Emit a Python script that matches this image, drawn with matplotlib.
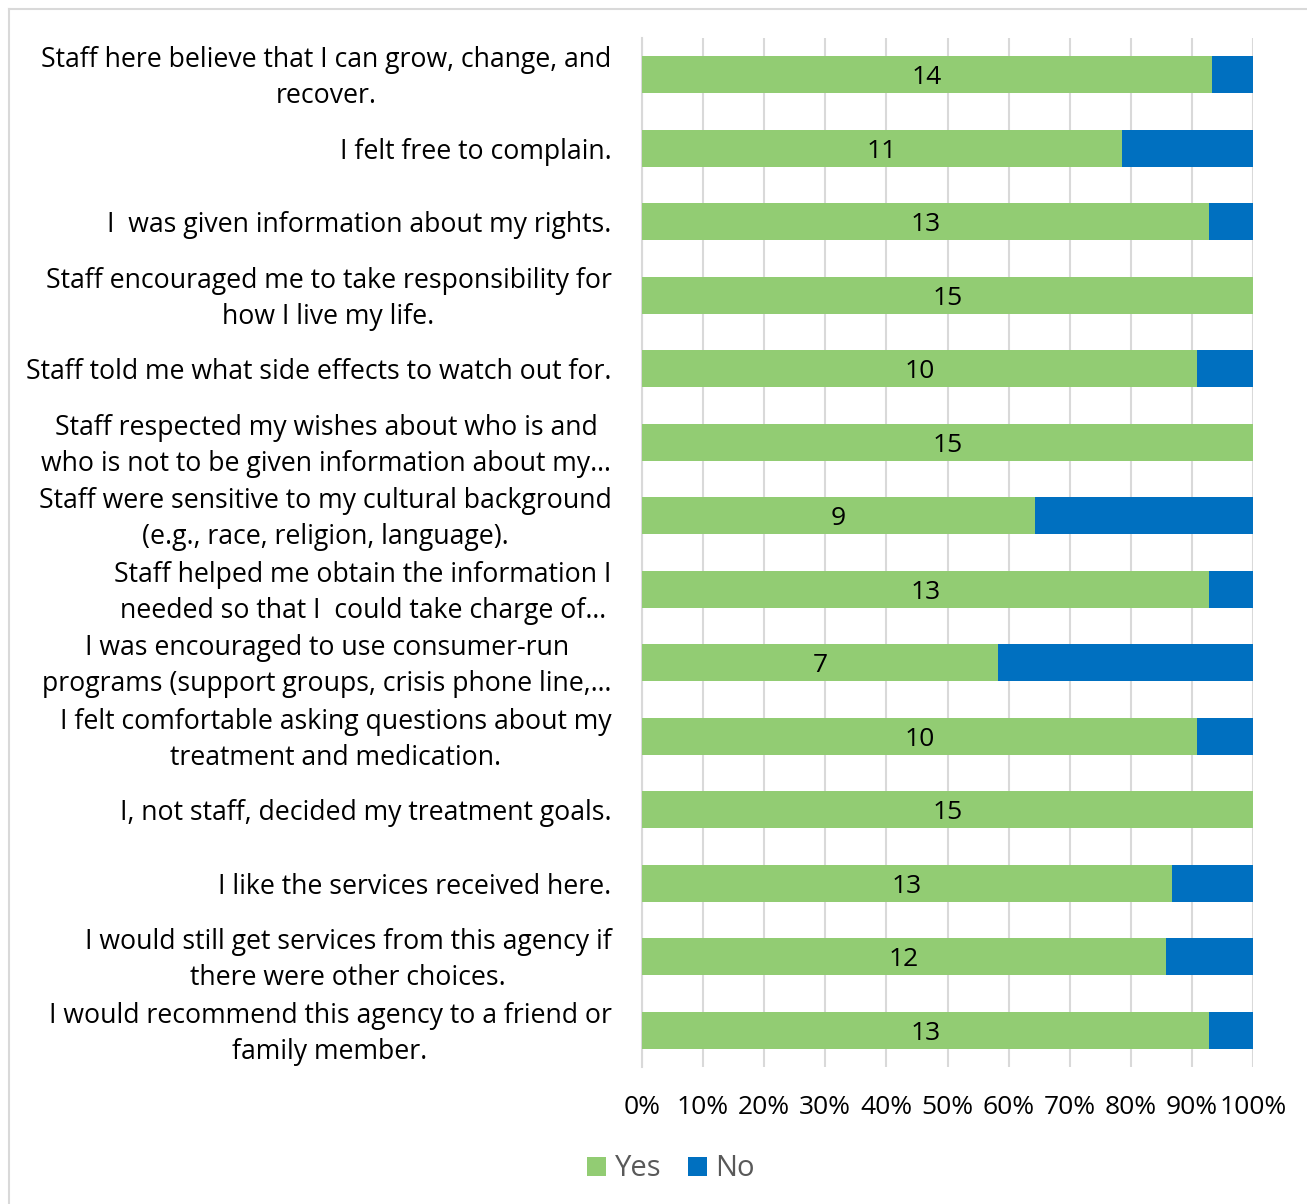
import numpy as np
import matplotlib.pyplot as plt
from matplotlib.lines import Line2D
from matplotlib.transforms import ScaledTranslation

plt.rcParams['font.family'] = ['Open Sans', 'DejaVu Sans']

# survey statements, top to bottom
questions = [
    'Staff here believe that I can grow, change, and\nrecover.',
    'I felt free to complain.',
    'I  was given information about my rights.',
    'Staff encouraged me to take responsibility for\nhow I live my life.',
    'Staff told me what side effects to watch out for.',
    'Staff respected my wishes about who is and\nwho is not to be given information about my\u2026',
    'Staff were sensitive to my cultural background\n(e.g., race, religion, language).',
    'Staff helped me obtain the information I\nneeded so that I  could take charge of\u2026',
    'I was encouraged to use consumer-run\nprograms (support groups, crisis phone line,\u2026',
    'I felt comfortable asking questions about my\ntreatment and medication.',
    'I, not staff, decided my treatment goals.',
    'I like the services received here.',
    'I would still get services from this agency if\nthere were other choices.',
    'I would recommend this agency to a friend or\nfamily member.',
]
yes = np.array([14, 11, 13, 15, 10, 15, 9, 13, 7, 10, 15, 13, 12, 13])
no = np.array([1, 3, 1, 0, 1, 0, 5, 1, 5, 1, 0, 2, 2, 1])

green = '#92cc73'
blue = '#0070c0'
grid_c = '#d9d9d9'

total = yes + no
yes_pct = yes / total * 100
no_pct = no / total * 100

fig = plt.figure(figsize=(13.07, 12.04), dpi=100)
ax = fig.add_axes([642 / 1307, 1 - 1067 / 1204, 611 / 1307, 1029 / 1204])

y = np.arange(len(questions))
ax.barh(y, yes_pct, height=0.5, color=green, label='Yes', zorder=3)
ax.barh(y, no_pct, left=yes_pct, height=0.5, color=blue, label='No', zorder=3)

for yi, p, v in zip(y, yes_pct, yes):
    ax.text(p / 2, yi, str(v), ha='center', va='center_baseline', fontsize=19,
            color='#000000', zorder=4)

ax.set_xlim(0, 100)
ax.set_ylim(len(questions) - 0.5, -0.5)
ax.set_xticks(np.arange(0, 101, 10))
ax.set_xticklabels([f'{t}%' for t in range(0, 101, 10)], fontsize=19)
ax.set_yticks(y)
ax.set_yticklabels(questions, fontsize=19.2, multialignment='center',
                   linespacing=1.39)
ax.tick_params(axis='y', length=0, pad=22)
ax.tick_params(axis='x', length=0, pad=20)

# two-line labels sit a little low, nudge them up
nudge = ScaledTranslation(0, 4 / 100, fig.dpi_scale_trans)
for lab in ax.get_yticklabels():
    if '\n' in lab.get_text():
        lab.set_transform(lab.get_transform() + nudge)

ax.grid(axis='x', color=grid_c, linewidth=1.5, zorder=0)
for s in ['top', 'right', 'bottom']:
    ax.spines[s].set_visible(False)
ax.spines['left'].set_color(grid_c)
ax.spines['left'].set_linewidth(1.5)

leg = fig.legend(loc='center', bbox_to_anchor=(671 / 1307, 1 - 1169 / 1204),
                 ncol=2, frameon=False, fontsize=21, handlelength=0.65,
                 handleheight=0.65, handletextpad=0.3, columnspacing=0.9)
for t in leg.get_texts():
    t.set_color('#595959')

# outer chart frame
fig.add_artist(Line2D([9 / 1307, 9 / 1307], [0, 1 - 9 / 1204],
                      transform=fig.transFigure, color=grid_c, linewidth=1.5))
fig.add_artist(Line2D([9 / 1307, 1], [1 - 9 / 1204, 1 - 9 / 1204],
                      transform=fig.transFigure, color=grid_c, linewidth=1.5))

fig.savefig('out.png', dpi=100)
